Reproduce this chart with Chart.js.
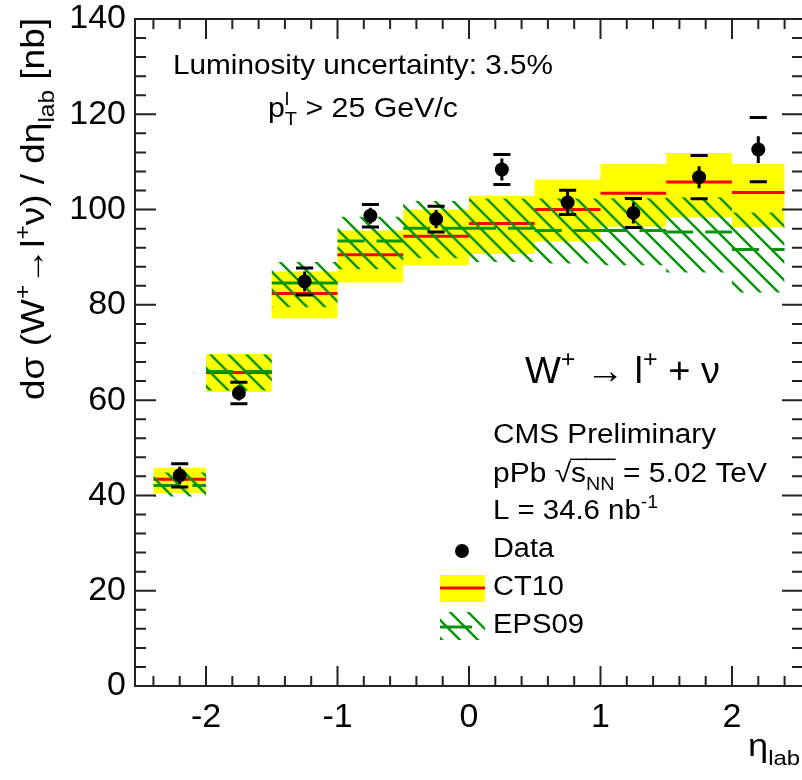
<!DOCTYPE html>
<html>
<head>
<meta charset="utf-8">
<script src="https://cdn.jsdelivr.net/npm/chart.js@4.4.1/dist/chart.umd.min.js"></script>
<style>
html, body { margin: 0; padding: 0; background: #fff; overflow: hidden; }
#wrap { width: 810px; height: 780px; }
</style>
</head>
<body>
<div id="wrap"><canvas id="myChart" width="810" height="780"></canvas></div>
<script>
// eta_lab bins
const binEdges = [-2.4, -2.0, -1.5, -1.0, -0.5, 0, 0.5, 1.0, 1.5, 2.0, 2.4];
const etaCenters = [-2.2, -1.75, -1.25, -0.75, -0.25, 0.25, 0.75, 1.25, 1.75, 2.2];

// measured cross section [nb]
const dataVal = [44.2, 61.5, 84.9, 98.7, 98.0, 108.4, 101.5, 99.3, 106.8, 112.6];
const statErr = [1.8, 1.6, 2.1, 1.7, 1.9, 2.3, 2.4, 2.2, 2.3, 2.8];
const totErr  = [2.45, 2.25, 2.85, 2.35, 2.7, 3.15, 2.55, 3.05, 4.55, 6.75];

// CT10 prediction
const ct10Mid = [43.4, 65.8, 82.4, 90.5, 94.4, 97.1, 100.0, 103.4, 105.8, 103.6];
const ct10Lo  = [40.5, 61.7, 77.2, 84.7, 88.3, 90.7, 93.3, 96.4, 98.4, 96.3];
const ct10Hi  = [45.8, 69.7, 87.0, 95.6, 100.0, 102.9, 106.3, 109.6, 111.9, 109.6];

// EPS09 prediction
const eps09Mid = [42.1, 66.0, 84.6, 93.4, 96.1, 96.1, 95.6, 95.6, 95.3, 91.6];
const eps09Lo  = [39.8, 62.0, 79.5, 87.5, 89.8, 89.0, 88.7, 88.3, 86.8, 82.6];
const eps09Hi  = [44.8, 69.6, 89.0, 98.5, 101.8, 102.3, 102.3, 102.4, 102.6, 99.4];

const xTickVals = [-2, -1, 0, 1, 2];
const yTickVals = [0, 20, 40, 60, 80, 100, 120, 140];

const FONT = "'Liberation Sans', Arial, Helvetica, sans-serif";
const GREEN = '#0a960a';
const capHalf = 0.065;

function hatchPattern(color) {
    const s = 18;
    const c = document.createElement('canvas');
    c.width = s; c.height = s;
    const g = c.getContext('2d');
    g.strokeStyle = color;
    g.lineWidth = 2.5;
    g.beginPath();
    g.moveTo(-2, -2); g.lineTo(s + 2, s + 2);
    g.moveTo(-3, s - 3); g.lineTo(3, s + 3);
    g.moveTo(s - 3, -3); g.lineTo(s + 3, 3);
    g.stroke();
    return g.createPattern(c, 'repeat');
}
const hatch = hatchPattern(GREEN);

// band edge as a stepped line over the bins
function stepPoints(vals) {
    const pts = vals.map((v, i) => ({x: binEdges[i], y: v}));
    pts.push({x: binEdges[binEdges.length - 1], y: vals[vals.length - 1]});
    return pts;
}
// one flat segment per bin
function binSegments(vals) {
    const pts = [];
    vals.forEach((v, i) => {
        pts.push({x: binEdges[i], y: v}, {x: binEdges[i + 1], y: v}, {x: binEdges[i + 1], y: null});
    });
    return pts;
}
const statBars = [];
const capBars = [];
etaCenters.forEach((c, i) => {
    statBars.push({x: c, y: dataVal[i] - statErr[i]}, {x: c, y: dataVal[i] + statErr[i]}, {x: c, y: null});
    capBars.push({x: c - capHalf, y: dataVal[i] + totErr[i]}, {x: c + capHalf, y: dataVal[i] + totErr[i]}, {x: c, y: null});
    capBars.push({x: c - capHalf, y: dataVal[i] - totErr[i]}, {x: c + capHalf, y: dataVal[i] - totErr[i]}, {x: c, y: null});
});

const noPts = {pointRadius: 0, pointHoverRadius: 0};

// draw a text made of normal / sup / sub runs, squeezed to a target width
function drawRuns(ctx, runs, x, y, size, targetW, color) {
    const parts = runs.map(r => {
        const p = typeof r === 'string' ? {t: r} : Object.assign({}, r);
        p.fs = p.s ? size * 0.66 : size;
        ctx.font = p.fs + 'px ' + FONT;
        p.w = ctx.measureText(p.t).width;
        return p;
    });
    let total = 0;
    parts.forEach(p => { if (!p.noAdv) total += p.w; });
    const sx = targetW ? targetW / total : 1;
    ctx.save();
    ctx.translate(x, y);
    ctx.scale(sx, 1);
    ctx.fillStyle = color || '#000';
    ctx.strokeStyle = color || '#000';
    ctx.textBaseline = 'alphabetic';
    ctx.textAlign = 'left';
    let cx = 0;
    parts.forEach(p => {
        ctx.font = p.fs + 'px ' + FONT;
        let dy = 0;
        if (p.s === 'sup') dy = -size * 0.42;
        if (p.s === 'sub') dy = size * 0.28;
        ctx.fillText(p.t, cx, dy);
        if (p.over) {
            ctx.lineWidth = 1.5;
            ctx.beginPath();
            ctx.moveTo(cx - 1, -size * 0.84);
            ctx.lineTo(cx + p.w + 1, -size * 0.84);
            ctx.stroke();
        }
        if (!p.noAdv) cx += p.w;
    });
    ctx.restore();
}

const rootStyle = {
    id: 'rootStyle',
    afterDatasetsDraw(chart) {
        const ctx = chart.ctx;
        const a = chart.chartArea;
        const xs = chart.scales.x, ys = chart.scales.y;
        ctx.save();
        ctx.strokeStyle = '#222';
        ctx.lineWidth = 2;
        ctx.strokeRect(a.left, a.top, a.right - a.left, a.bottom - a.top);
        ctx.beginPath();
        for (let k = -12; k <= 12; k++) {
            const v = k * 0.2;
            const px = xs.getPixelForValue(v);
            const len = k % 5 === 0 ? 20 : 10;
            ctx.moveTo(px, a.bottom); ctx.lineTo(px, a.bottom - len);
            ctx.moveTo(px, a.top); ctx.lineTo(px, a.top + len);
        }
        for (let k = 0; k <= 35; k++) {
            const v = k * 4;
            const py = ys.getPixelForValue(v);
            const len = k % 5 === 0 ? 21 : 11;
            ctx.moveTo(a.left, py); ctx.lineTo(a.left + len, py);
            ctx.moveTo(a.right, py); ctx.lineTo(a.right - len, py);
        }
        ctx.stroke();
        ctx.restore();

        // texts
        drawRuns(ctx, ['Luminosity uncertainty: 3.5%'], 173, 73.5, 28, 380);
        drawRuns(ctx, ['p', {t: 'l', s: 'sup', noAdv: true}, {t: 'T', s: 'sub'}, ' > 25 GeV/c'], 268, 117, 28, 190);
        drawRuns(ctx, ['W', {t: '+', s: 'sup'}, ' \u2192 l', {t: '+', s: 'sup'}, ' + \u03bd'], 525, 383, 37, 195);
        drawRuns(ctx, ['CMS Preliminary'], 493, 443, 27, 223);
        drawRuns(ctx, ['pPb ', '\u221a', {t: 's', over: true}, {t: 'NN', s: 'sub', over: true}, ' = 5.02 TeV'], 493, 482, 27, 274);
        drawRuns(ctx, ['L = 34.6 nb', {t: '-1', s: 'sup'}], 493, 519, 27, 165);
        drawRuns(ctx, ['Data'], 493, 557, 27, 61);
        drawRuns(ctx, ['CT10'], 493, 595, 27, 71);
        drawRuns(ctx, ['EPS09'], 493, 633, 27, 91);

        // legend symbols
        ctx.save();
        ctx.fillStyle = '#000';
        ctx.beginPath();
        ctx.arc(462, 551, 7, 0, Math.PI * 2);
        ctx.fill();
        ctx.fillStyle = '#ffff00';
        ctx.fillRect(440, 575, 45, 27);
        ctx.strokeStyle = '#ff0000';
        ctx.lineWidth = 3;
        ctx.beginPath(); ctx.moveTo(440, 588); ctx.lineTo(485, 588); ctx.stroke();
        ctx.fillStyle = hatch;
        ctx.fillRect(440, 612, 45, 28);
        ctx.strokeStyle = GREEN;
        ctx.beginPath(); ctx.moveTo(440, 627); ctx.lineTo(472, 627); ctx.stroke();
        ctx.restore();

        // axis titles
        ctx.save();
        ctx.translate(44, 400);
        ctx.rotate(-Math.PI / 2);
        drawRuns(ctx, ['d\u03c3 (W', {t: '+', s: 'sup'}, '\u2192l', {t: '+', s: 'sup'}, '\u03bd) / d\u03b7', {t: 'lab', s: 'sub'}, ' [nb]'], 0, 0, 34, 382);
        ctx.restore();
        drawRuns(ctx, ['\u03b7', {t: 'lab', s: 'sub'}], 748, 756, 31, 52);
    }
};

const ctx = document.getElementById('myChart').getContext('2d');
const myChart = new Chart(ctx, {
    type: 'line',
    data: {
        datasets: [
            {label: 'Data', data: etaCenters.map((c, i) => ({x: c, y: dataVal[i]})), showLine: false,
             pointRadius: 7, pointHoverRadius: 7, pointBackgroundColor: '#000', pointBorderWidth: 0, order: 0},
            Object.assign({label: 'stat', data: statBars, borderColor: '#000', borderWidth: 3, order: 1}, noPts),
            Object.assign({label: 'caps', data: capBars, borderColor: '#000', borderWidth: 3, order: 2}, noPts),
            Object.assign({label: 'EPS09', data: binSegments(eps09Mid), borderColor: GREEN, borderWidth: 3,
             borderDash: [27, 12], order: 3}, noPts),
            Object.assign({label: 'EPS09 hi', data: stepPoints(eps09Hi), stepped: 'before', borderColor: 'rgba(0,0,0,0)',
             backgroundColor: hatch, fill: 5, order: 4}, noPts),
            Object.assign({label: 'EPS09 lo', data: stepPoints(eps09Lo), stepped: 'before', borderColor: 'rgba(0,0,0,0)',
             fill: false, order: 5}, noPts),
            Object.assign({label: 'CT10', data: binSegments(ct10Mid), borderColor: '#ff0000', borderWidth: 3, order: 6}, noPts),
            Object.assign({label: 'CT10 hi', data: stepPoints(ct10Hi), stepped: 'before', borderColor: 'rgba(0,0,0,0)',
             backgroundColor: '#ffff00', fill: 8, order: 7}, noPts),
            Object.assign({label: 'CT10 lo', data: stepPoints(ct10Lo), stepped: 'before', borderColor: 'rgba(0,0,0,0)',
             fill: false, order: 8}, noPts)
        ]
    },
    options: {
        responsive: false,
        animation: false,
        spanGaps: false,
        layout: {padding: {top: 19, right: 6, left: 0, bottom: 0}},
        plugins: {legend: {display: false}, tooltip: {enabled: false}},
        scales: {
            x: {
                type: 'linear', min: -2.54, max: 2.54,
                afterBuildTicks: s => { s.ticks = xTickVals.map(v => ({value: v})); },
                afterFit: s => { s.height = 94; s.paddingLeft = 0; s.paddingRight = 0; },
                grid: {display: false, drawTicks: false},
                border: {display: false},
                ticks: {font: {family: FONT, size: 34, lineHeight: 1}, color: '#000', padding: 15,
                        autoSkip: false, maxRotation: 0, callback: v => String(v)}
            },
            y: {
                type: 'linear', min: 0, max: 140,
                afterBuildTicks: s => { s.ticks = yTickVals.map(v => ({value: v})); },
                afterFit: s => { s.width = 135; s.paddingTop = 0; s.paddingBottom = 0; },
                grid: {display: false, drawTicks: false},
                border: {display: false},
                ticks: {font: {family: FONT, size: 34, lineHeight: 1}, color: '#000', padding: 9,
                        callback: v => String(v)}
            }
        }
    },
    plugins: [rootStyle]
});
</script>
</body>
</html>
